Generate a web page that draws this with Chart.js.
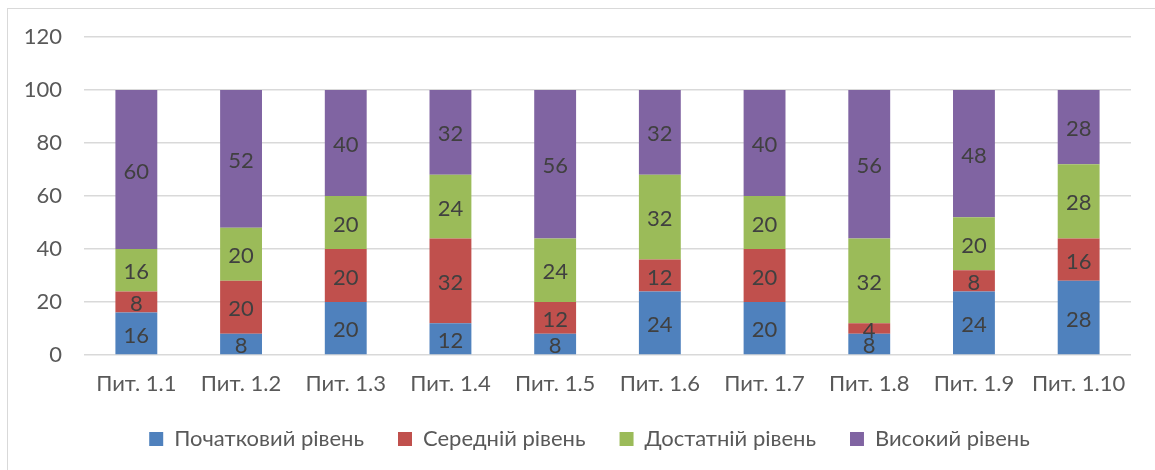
<!DOCTYPE html>
<html>
<head>
<meta charset="utf-8">
<script src="https://cdn.jsdelivr.net/npm/chart.js@4.4.1/dist/chart.umd.min.js"></script>
<style>
  html, body { margin: 0; padding: 0; background: #fff; }
  #wrap { position: relative; width: 1155px; height: 470px; }
  #frame { position: absolute; left: 7px; top: 8px; width: 1160px; height: 480px;
           border-left: 1px solid #d9d9d9; border-top: 1px solid #d9d9d9; }
  canvas { position: absolute; left: 0; top: 0; }
</style>
</head>
<body>
<div id="wrap">
  <div id="frame"></div>
  <canvas id="chart" width="1155" height="470"></canvas>
</div>
<script>
const categories = ['Пит. 1.1', 'Пит. 1.2', 'Пит. 1.3', 'Пит. 1.4', 'Пит. 1.5',
                    'Пит. 1.6', 'Пит. 1.7', 'Пит. 1.8', 'Пит. 1.9', 'Пит. 1.10'];
const initialLevel = [16, 8, 20, 12, 8, 24, 20, 8, 24, 28];
const middleLevel = [8, 20, 20, 32, 12, 12, 20, 4, 8, 16];
const sufficientLevel = [16, 20, 20, 24, 24, 32, 20, 32, 20, 28];
const highLevel = [60, 52, 40, 32, 56, 32, 40, 56, 48, 28];
const yTicks = [0, 20, 40, 60, 80, 100, 120];

const FONT = 'Lato, "Noto Sans", sans-serif';

// draws the value in the middle of each segment
const segmentLabels = {
  id: 'segmentLabels',
  afterDatasetsDraw(chart) {
    const ctx = chart.ctx;
    ctx.save();
    ctx.font = '22px ' + FONT;
    ctx.fillStyle = '#404040';
    ctx.textAlign = 'center';
    ctx.textBaseline = 'middle';
    chart.data.datasets.forEach((ds, i) => {
      chart.getDatasetMeta(i).data.forEach((bar, j) => {
        const mid = (bar.y + bar.base) / 2;
        ctx.fillText(String(ds.data[j]), bar.x, mid + 2);
      });
    });
    ctx.restore();
  }
};

// legend in the original sits a bit right of the canvas centre
const legendShift = {
  id: 'legendShift',
  afterLayout(chart) {
    if (chart.legend) {
      chart.legend.left += 24;
      chart.legend.right += 24;
    }
  }
};

function series(label, data, color) {
  return {
    label, data,
    backgroundColor: color,
    categoryPercentage: 1,
    barPercentage: 0.4
  };
}

new Chart(document.getElementById('chart'), {
  type: 'bar',
  data: {
    labels: categories,
    datasets: [
      series('Початковий рівень', initialLevel, '#4f81bd'),
      series('Середній рівень', middleLevel, '#c0504d'),
      series('Достатній рівень', sufficientLevel, '#9bbb59'),
      series('Високий рівень', highLevel, '#8064a2')
    ]
  },
  options: {
    responsive: false,
    animation: false,
    layout: { padding: { top: 37, right: 24, left: 0, bottom: 10 } },
    plugins: {
      tooltip: { enabled: false },
      legend: {
        position: 'bottom',
        labels: {
          font: { family: FONT, size: 22 },
          color: '#595959',
          boxWidth: 14,
          boxHeight: 14,
          padding: 34
        }
      }
    },
    scales: {
      x: {
        stacked: true,
        grid: { display: false, drawTicks: false },
        border: { display: false },
        ticks: { font: { family: FONT, size: 22 }, color: '#595959', padding: 16, maxRotation: 0 },
        afterFit(scale) { scale.height = 39; }
      },
      y: {
        stacked: true,
        min: 0,
        max: 120,
        afterBuildTicks(scale) { scale.ticks = yTicks.map(v => ({ value: v })); },
        grid: { color: '#d9d9d9', lineWidth: 1.5, drawTicks: false },
        border: { display: false },
        ticks: { font: { family: FONT, size: 22 }, color: '#595959', padding: 22 },
        afterFit(scale) { scale.width = 84; }
      }
    }
  },
  plugins: [segmentLabels, legendShift]
});
</script>
</body>
</html>
